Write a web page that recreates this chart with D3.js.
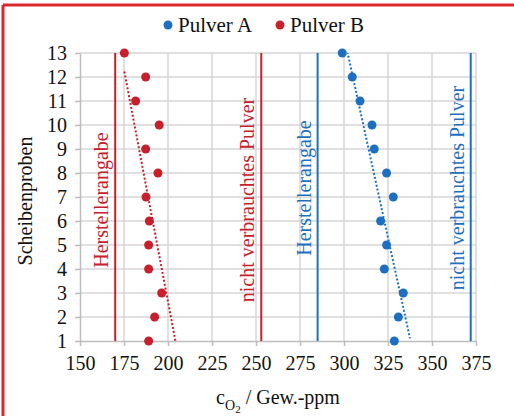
<!DOCTYPE html>
<html>
<head>
<meta charset="utf-8">
<script src="https://cdn.jsdelivr.net/npm/d3@7"></script>
<style>
  body { margin: 0; background: #fff; }
  svg text { font-family: "Liberation Serif", "Times New Roman", serif; }
</style>
</head>
<body>
<div id="chart"></div>
<script>
// Data
const samples = [1, 2, 3, 4, 5, 6, 7, 8, 9, 10, 11, 12, 13];
const pulverA = [328.6, 330.9, 333.7, 322.9, 324.2, 320.8, 328, 324.2, 317.2, 315.9, 309.1, 304.7, 299];
const pulverB = [189, 192.4, 196.4, 189, 189, 189.4, 187.5, 194.3, 187.3, 195, 181.6, 187.3, 175.2];
const xTicks = [150, 175, 200, 225, 250, 275, 300, 325, 350, 375];
const trendRangeA = [299, 337.5];
const trendRangeB = [175.2, 206];
const refA = [285, 372];   // Herstellerangabe, nicht verbrauchtes Pulver
const refB = [170, 253];
const refLabels = ["Herstellerangabe", "nicht verbrauchtes Pulver"];
const seriesNames = ["Pulver A", "Pulver B"];

const width = 514, height = 416;
const margin = { top: 53, right: 38, bottom: 75, left: 80 };
const blue = "#1f6fc1", red = "#c5202b";

const svg = d3.select("#chart").append("svg")
    .attr("width", width)
    .attr("height", height);

// red frame (top and left only, image is cropped)
svg.append("line").attr("x1", 3).attr("x2", width).attr("y1", 5).attr("y2", 5)
    .attr("stroke", "#d9282e").attr("stroke-width", 3);
svg.append("line").attr("x1", 3).attr("x2", 3).attr("y1", 5).attr("y2", height)
    .attr("stroke", "#d9282e").attr("stroke-width", 3);

const x = d3.scaleLinear().domain([150, 375]).range([margin.left, width - margin.right]);
const y = d3.scaleLinear().domain([1, 13]).range([height - margin.bottom, margin.top]);

// grid
svg.append("g")
    .selectAll("line").data(xTicks.slice(1)).join("line")
    .attr("x1", d => x(d)).attr("x2", d => x(d))
    .attr("y1", y(1)).attr("y2", y(13))
    .attr("stroke", "#d6d6d6").attr("stroke-width", 1.5);
svg.append("g")
    .selectAll("line").data(samples.slice(1)).join("line")
    .attr("x1", x(150)).attr("x2", x(375))
    .attr("y1", d => y(d)).attr("y2", d => y(d))
    .attr("stroke", "#d6d6d6").attr("stroke-width", 1.5);

// axes
const xAxis = svg.append("g")
    .attr("transform", `translate(0,${y(1)})`)
    .call(d3.axisBottom(x).tickValues(xTicks).tickSize(5).tickSizeOuter(0));
const yAxis = svg.append("g")
    .attr("transform", `translate(${x(150)},0)`)
    .call(d3.axisLeft(y).tickValues(samples).tickSize(5).tickSizeOuter(0));
[xAxis, yAxis].forEach(g => {
    g.select(".domain").attr("stroke", "#bdbdbd").attr("stroke-width", 1.5);
    g.selectAll(".tick line").attr("stroke", "#bdbdbd").attr("stroke-width", 1.5);
    g.selectAll(".tick text").attr("fill", "#111").style("font-size", "20px")
        .style("font-family", "Liberation Serif");
});
xAxis.selectAll(".tick text").attr("dy", "1.05em");
yAxis.selectAll(".tick text").attr("x", -13);

// reference lines + labels
const refs = [
    { vals: refB, color: red },
    { vals: refA, color: blue }
];
refs.forEach(r => {
    r.vals.forEach((v, i) => {
        svg.append("line")
            .attr("x1", x(v)).attr("x2", x(v))
            .attr("y1", y(1)).attr("y2", y(13))
            .attr("stroke", r.color).attr("stroke-width", 2);
        const cy = r.color === red ? 200 : 188;
        svg.append("text")
            .attr("transform", `translate(${x(v) - 7},${cy}) rotate(-90)`)
            .attr("text-anchor", "middle")
            .attr("fill", r.color)
            .style("font-size", "20px")
            .text(refLabels[i]);
    });
});

// clip for trendlines
svg.append("clipPath").attr("id", "plot").append("rect")
    .attr("x", x(150)).attr("y", y(13))
    .attr("width", x(375) - x(150)).attr("height", y(1) - y(13));

function trend(xs, range) {
    const mx = d3.mean(xs), my = d3.mean(samples);
    const sxy = d3.sum(xs, (v, i) => (v - mx) * (samples[i] - my));
    const sxx = d3.sum(xs, v => (v - mx) ** 2);
    const b = sxy / sxx, a = my - b * mx;
    return range.map(v => [v, a + b * v]);
}

const series = [
    { vals: pulverA, color: blue, range: trendRangeA },
    { vals: pulverB, color: red, range: trendRangeB }
];
series.forEach(s => {
    svg.append("path")
        .datum(trend(s.vals, s.range))
        .attr("clip-path", "url(#plot)")
        .attr("d", d3.line().x(d => x(d[0])).y(d => y(d[1])))
        .attr("fill", "none")
        .attr("stroke", s.color)
        .attr("stroke-width", 2)
        .attr("stroke-dasharray", "2,2");
    svg.append("g").selectAll("circle").data(s.vals).join("circle")
        .attr("cx", d => x(d))
        .attr("cy", (d, i) => y(samples[i]))
        .attr("r", 4.5)
        .attr("fill", s.color);
});

// legend
const legend = svg.append("g");
[{ x: 168, color: blue }, { x: 280, color: red }].forEach((l, i) => {
    legend.append("circle").attr("cx", l.x).attr("cy", 25).attr("r", 4.5).attr("fill", l.color);
    legend.append("text").attr("x", l.x + 10).attr("y", 32)
        .attr("fill", "#111").style("font-size", "21px")
        .text(seriesNames[i]);
});

// axis titles
svg.append("text")
    .attr("transform", `translate(32,201) rotate(-90)`)
    .attr("text-anchor", "middle")
    .attr("fill", "#111")
    .style("font-size", "20px")
    .text("Scheibenproben");

const xt = svg.append("text")
    .attr("x", (x(150) + x(375)) / 2)
    .attr("y", 404)
    .attr("text-anchor", "middle")
    .attr("fill", "#111")
    .style("font-size", "20px");
xt.append("tspan").text("c");
xt.append("tspan").attr("dy", 6).style("font-size", "14px").text("O");
xt.append("tspan").attr("dy", 3).style("font-size", "11px").text("2");
xt.append("tspan").attr("dy", -9).text(" / Gew.-ppm");
</script>
</body>
</html>
